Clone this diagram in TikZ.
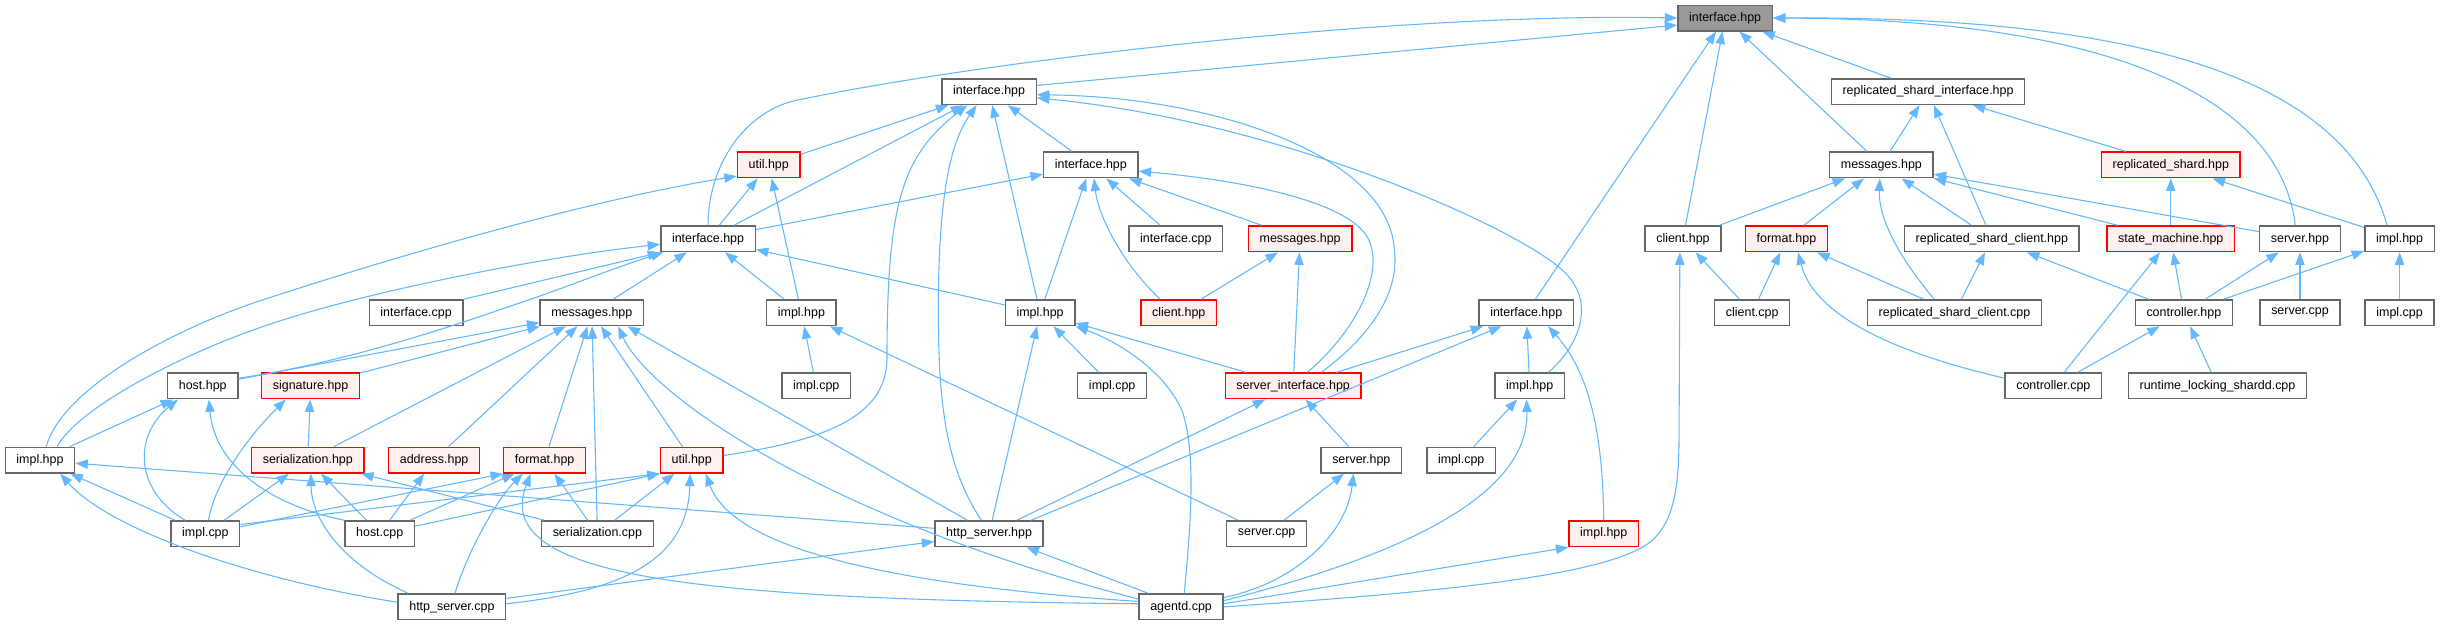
\documentclass[tikz,border=0pt]{standalone}
\usepackage{fontspec}
\setmainfont{Liberation Sans}
\usetikzlibrary{arrows.meta}
\definecolor{edgec}{HTML}{63B8FF}
\definecolor{nodeb}{HTML}{666666}
\definecolor{redfill}{HTML}{FFF0F0}
\definecolor{rootfill}{HTML}{999999}
\begin{document}
\begin{tikzpicture}[x=1pt,y=1pt,
  nd/.style={draw=nodeb, line width=0.9pt, fill=white, inner xsep=7.2pt, inner ysep=0pt, minimum height=16.5pt, font=\fontsize{8}{9.6}\selectfont},
  rd/.style={nd, draw=red, fill=redfill},
  rt/.style={nd, fill=rootfill},
  e/.style={draw=edgec, line width=0.7pt, -{Triangle[length=8pt,width=6pt]}},
]
\useasboundingbox (0,0) rectangle (1568,-402);
% row 0
\node[rt] (N0) at (1108.6,-11.6) {interface.hpp};
% row 1
\node[nd] (A) at (635.6,-58.9) {interface.hpp};
\node[nd] (RSI) at (1239,-58.9) {replicated\_shard\_interface.hpp};
% row 2
\node[rd] (U1) at (494,-106) {util.hpp};
\node[nd] (B) at (701,-106) {interface.hpp};
\node[nd] (Mrs) at (1209,-106) {messages.hpp};
\node[rd] (RS) at (1395,-106) {replicated\_shard.hpp};
% row 3
\node[nd] (C) at (455,-153.5) {interface.hpp};
\node[nd] (I1) at (755.6,-153.5) {interface.cpp};
\node[rd] (Mred) at (835.5,-153.5) {messages.hpp};
\node[nd] (Cl1) at (1081.5,-153.5) {client.hpp};
\node[rd] (F2) at (1148,-153.5) {format.hpp};
\node[nd] (RSC) at (1280,-153.5) {replicated\_shard\_client.hpp};
\node[rd] (SM) at (1395,-153.5) {state\_machine.hpp};
\node[nd] (Sv1) at (1478,-153.5) {server.hpp};
\node[nd] (Im1) at (1542,-153.5) {impl.hpp};
% row 4
\node[nd] (I2) at (267.4,-201) {interface.cpp};
\node[nd] (M2) at (380.3,-201) {messages.hpp};
\node[nd] (Im2) at (515,-201) {impl.hpp};
\node[nd] (Im3) at (668.4,-201) {impl.hpp};
\node[rd] (Cl2) at (757.5,-201) {client.hpp};
\node[nd] (D) at (980.8,-201) {interface.hpp};
\node[nd] (Cc) at (1126,-201) {client.cpp};
\node[nd] (RSCc) at (1256,-201) {replicated\_shard\_client.cpp};
\node[nd] (Ch) at (1403.4,-201) {controller.hpp};
\node[nd] (Sc1) at (1478,-201) {server.cpp};
\node[nd] (Ic1) at (1542,-201) {impl.cpp};
% row 5
\node[nd] (H) at (130.3,-248) {host.hpp};
\node[rd] (Sg) at (199.6,-248) {signature.hpp};
\node[nd] (Ic2) at (524.5,-248) {impl.cpp};
\node[nd] (Ic3) at (714.7,-248) {impl.cpp};
\node[rd] (SI) at (831,-248) {server\_interface.hpp};
\node[nd] (Im5) at (983,-248) {impl.hpp};
\node[nd] (Ccpp) at (1319.5,-248) {controller.cpp};
\node[nd] (RLS) at (1425,-248) {runtime\_locking\_shardd.cpp};
% row 6
\node[nd] (Im6) at (25.7,-295.7) {impl.hpp};
\node[rd] (Ser) at (197.8,-295.7) {serialization.hpp};
\node[rd] (Ad) at (279,-295.7) {address.hpp};
\node[rd] (F1) at (350,-295.7) {format.hpp};
\node[rd] (U2) at (444.5,-295.7) {util.hpp};
\node[nd] (Sv2) at (874.8,-295.7) {server.hpp};
\node[nd] (Ic4) at (939,-295.7) {impl.cpp};
% row 7
\node[nd] (Ic5) at (132,-343) {impl.cpp};
\node[nd] (Hc) at (244,-343) {host.cpp};
\node[nd] (Sc) at (383.9,-343) {serialization.cpp};
\node[nd] (HS) at (635.6,-343) {http\_server.hpp};
\node[nd] (Sc2) at (814,-343) {server.cpp};
\node[rd] (Im7) at (1030.6,-343) {impl.hpp};
% row 8
\node[nd] (HSc) at (290.4,-390) {http\_server.cpp};
\node[nd] (Ag) at (759,-390) {agentd.cpp};

% ---- edges into N0
\draw[e] ([yshift=4pt]A.east) -- ([yshift=-4.5pt]N0.west);
\draw[e] (C.north) .. controls (455,-105) and (480,-70) .. (514,-64) .. controls (640,-38) and (900,-8) .. (N0.west);
\draw[e] (D) -- (N0);
\draw[e] (Cl1) -- (N0);
\draw[e] (Mrs) -- (N0);
\draw[e] (RSI) -- (N0);
\draw[e] ([xshift=-3pt]Sv1.north) .. controls (1465,-60) and (1350,-12) .. (N0.east);
\draw[e] ([xshift=-8pt]Im1.north) .. controls (1510,-60) and (1400,-10) .. (N0.east);
% ---- into A
\draw[e] (U1) -- (A);
\draw[e] (C) -- (A);
\draw[e] (B) -- (A);
\draw[e] (Im3) -- (A);
\draw[e] ([yshift=3pt]U2.east) .. controls (530,-283) and (570,-268) .. (570,-230) .. controls (570,-130) and (580,-100) .. ([xshift=-14pt]A.south);
\draw[e] ([xshift=-5pt]HS.north) .. controls (608,-300) and (603,-260) .. (603,-200) .. controls (603,-120) and (612,-90) .. ([xshift=-8pt]A.south);
\draw[e] ([xshift=18pt]SI.north) .. controls (878,-218) and (900,-190) .. (896,-160) .. controls (892,-100) and (780,-62) .. ([yshift=-2pt]A.east);
\draw[e] ([xshift=12pt]Im5.north) .. controls (1015,-222) and (1028,-192) .. (1001,-171) .. controls (965,-142) and (820,-78) .. ([yshift=-4pt]A.east);
% ---- into RSI
\draw[e] (Mrs) -- (RSI);
\draw[e] (RSC) -- (RSI);
\draw[e] (RS) -- (RSI);
% ---- into U1
\draw[e] (C) -- (U1);
\draw[e] (Im2) -- (U1);
\draw[e] ([xshift=4pt]Im6.north) .. controls (40,-250) and (110,-212) .. (168,-193) .. controls (250,-166) and (380,-128) .. ([yshift=1.5pt]U1.south west);
% ---- into B
\draw[e] (C) -- (B);
\draw[e] (Im3) -- (B);
\draw[e] (I1) -- (B);
\draw[e] (Mred) -- (B);
\draw[e] ([xshift=-12pt]Cl2.north) .. controls (722,-170) and (706,-140) .. ([xshift=2pt]B.south);
\draw[e] ([xshift=9pt]SI.north) .. controls (866,-218) and (890,-180) .. (880,-155) .. controls (870,-130) and (800,-116) .. ([yshift=-4pt]B.east);
% ---- into Mrs
\draw[e] (Cl1) -- (Mrs);
\draw[e] (F2) -- (Mrs);
\draw[e] (RSC) -- (Mrs);
\draw[e] (SM) -- (Mrs);
\draw[e] (Sv1) -- (Mrs);
\draw[e] ([xshift=-13pt]RSCc.north) .. controls (1220,-165) and (1207,-140) .. ([xshift=-1pt]Mrs.south);
% ---- into RS
\draw[e] (SM) -- (RS);
\draw[e] (Im1) -- (RS);
% ---- into C
\draw[e] (I2.north east) -- (C.south west);
\draw[e] (M2) -- (C);
\draw[e] (Im2) -- (C);
\draw[e] (Im3) -- (C);
\draw[e] ([xshift=11pt]Im6.north) .. controls (50,-262) and (120,-225) .. (181.5,-205.7) .. controls (243,-186) and (350,-165) .. ([yshift=-3.5pt]C.west);
\draw[e] ([yshift=5pt]H.east) .. controls (230,-232) and (312,-202) .. (336,-194) .. controls (360,-186) and (395,-172) .. ([xshift=2pt]C.south west);
% ---- into Mred
\draw[e] (Cl2) -- (Mred);
\draw[e] (SI) -- (Mred);
% ---- into Cl1
\draw[e] (Cc) -- (Cl1);
\draw[e] (Ag.east) .. controls (900,-382) and (1035,-372) .. (1062,-347) .. controls (1075,-335) and (1079,-315) .. (1079,-280) -- ([xshift=-2pt]Cl1.south);
% ---- into F2
\draw[e] (Cc) -- (F2);
\draw[e] (RSCc) -- (F2);
\draw[e] ([yshift=5pt]Ccpp.west) .. controls (1210,-225) and (1165,-200) .. ([xshift=7.5pt]F2.south);
% ---- into RSC, SM, Sv1, Im1
\draw[e] (RSCc) -- (RSC);
\draw[e] (Ch) -- (RSC);
\draw[e] (Ccpp) -- (SM);
\draw[e] (Ch) -- (SM);
\draw[e] (Ch) -- (Sv1);
\draw[e] (Sc1) -- (Sv1);
\draw[e] (Ch) -- (Im1);
\draw[e] (Ic1) -- (Im1);
% ---- into M2
\draw[e] (H) -- (M2);
\draw[e] (Sg) -- (M2);
\draw[e] (Ser) -- (M2);
\draw[e] (Ad) -- (M2);
\draw[e] (F1) -- (M2);
\draw[e] (Sc) -- (M2);
\draw[e] (U2) -- (M2);
\draw[e] ([xshift=-14pt]HS.north) -- ([xshift=23pt]M2.south);
\draw[e] ([yshift=5pt]Ag.west) .. controls (520,-330) and (415,-250) .. ([xshift=17pt]M2.south);
% ---- into Im2
\draw[e] (Ic2) -- (Im2);
\draw[e] (Sc2) -- (Im2);
% ---- into Im3
\draw[e] (HS) -- (Im3);
\draw[e] (Ic3) -- (Im3);
\draw[e] (SI) -- (Im3);
\draw[e] ([xshift=2pt]Ag.north) .. controls (766,-330) and (768,-290) .. (760,-265) .. controls (750,-240) and (720,-220) .. (Im3.south east);
% ---- into D
\draw[e] (SI) -- (D);
\draw[e] ([xshift=27pt]HS.north) -- ([xshift=-16pt]D.south);
\draw[e] (Im5) -- (D);
\draw[e] (Im7.north) .. controls (1030,-280) and (1022,-240) .. ([xshift=14pt]D.south);
% ---- into Ch
\draw[e] (Ccpp) -- (Ch);
\draw[e] (RLS) -- (Ch);
% ---- into H
\draw[e] (Im6) -- (H);
\draw[e] ([xshift=-13pt]Ic5.north) .. controls (86,-315) and (86,-280) .. ([xshift=-16pt]H.south);
\draw[e] (Hc.north west) .. controls (175,-325) and (138,-300) .. ([xshift=4pt]H.south);
% ---- into Sg
\draw[e] (Ser) -- (Sg);
\draw[e] ([xshift=2pt]Ic5.north) .. controls (138,-310) and (160,-280) .. ([xshift=-16pt]Sg.south);
% ---- into SI
\draw[e] (HS) -- (SI);
\draw[e] (Sv2) -- (SI);
% ---- into Im5
\draw[e] (Ic4) -- (Im5);
\draw[e] ([yshift=4pt]Ag.east) .. controls (880,-362) and (983,-325) .. ([xshift=-2pt]Im5.south);
% ---- into Im6
\draw[e] (Ic5) -- (Im6);
\draw[e] ([yshift=3.5pt]HS.west) -- ([yshift=-2pt]Im6.east);
\draw[e] ([yshift=3pt]HSc.west) .. controls (160,-372) and (70,-340) .. ([xshift=13pt]Im6.south);
% ---- into Ser
\draw[e] (Ic5) -- (Ser);
\draw[e] (Hc) -- (Ser);
\draw[e] (Sc) -- (Ser);
\draw[e] ([xshift=-28pt]HSc.north) .. controls (215,-360) and (200,-330) .. ([xshift=2pt]Ser.south);
% ---- into Ad
\draw[e] (Hc) -- (Ad);
% ---- into F1
\draw[e] ([yshift=4.5pt]Ic5.east) -- (F1.south west);
\draw[e] (Hc) -- (F1);
\draw[e] (Sc) -- (F1);
\draw[e] ([xshift=2pt]HSc.north) .. controls (300,-355) and (320,-320) .. ([xshift=-14pt]F1.south);
\draw[e] ([yshift=2pt]Ag.west) .. controls (450,-385) and (315,-372) .. ([xshift=-9pt]F1.south);
% ---- into U2
\draw[e] ([yshift=6pt]Ic5.east) -- (U2.south west);
\draw[e] (Hc) -- (U2.south west);
\draw[e] (Sc) -- (U2);
\draw[e] ([yshift=2pt]HSc.east) .. controls (400,-380) and (442,-360) .. ([xshift=-1pt]U2.south);
\draw[e] ([yshift=3.5pt]Ag.west) .. controls (560,-375) and (470,-350) .. ([xshift=9pt]U2.south);
% ---- into Sv2
\draw[e] (Sc2) -- (Sv2);
\draw[e] ([yshift=6pt]Ag.east) .. controls (830,-375) and (865,-345) .. ([xshift=-5pt]Sv2.south);
% ---- into HS
\draw[e] ([yshift=5.5pt]HSc.east) -- ([yshift=-5pt]HS.west);
\draw[e] ([xshift=-21pt]Ag.north) -- ([xshift=24pt]HS.south);
% ---- into Im7
\draw[e] ([yshift=2pt]Ag.east) -- (Im7.south west);
\end{tikzpicture}
\end{document}
